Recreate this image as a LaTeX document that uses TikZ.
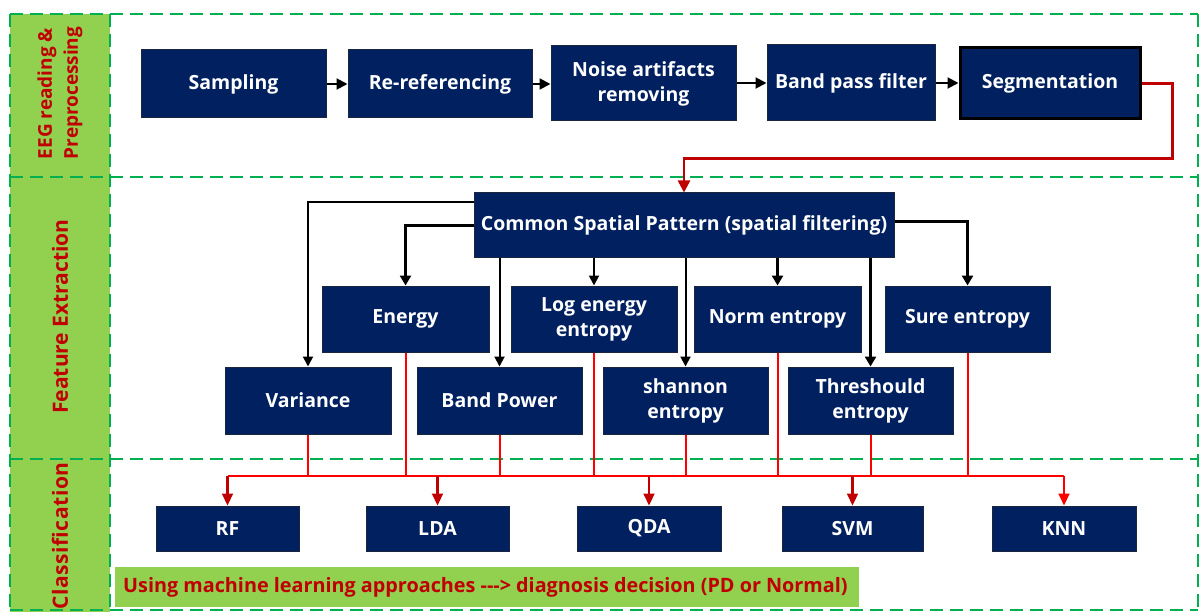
\documentclass[tikz,border=0pt]{standalone}
\usepackage{fontspec}
\setmainfont{Open Sans}
\newfontfamily\spacedfont[LetterSpace=3]{Open Sans}
\usetikzlibrary{arrows.meta,calc}
\definecolor{navy}{HTML}{002060}
\definecolor{bandgreen}{HTML}{92D050}
\definecolor{dashgreen}{HTML}{00B050}
\definecolor{darkred}{HTML}{C00000}
\definecolor{brightred}{HTML}{FF0000}
\definecolor{boxedge}{HTML}{1A2540}
\tikzset{
  box/.style={draw=boxedge, line width=1pt, fill=navy, text=white, inner sep=0pt,
    align=center, font=\fontsize{19.5}{25}\selectfont\bfseries},
  rowline/.style={draw=dashgreen, line width=2.5pt, dash pattern=on 13pt off 7pt},
  rowlabel/.style={rotate=90, text=darkred, align=left, font=\fontsize{19}{26}\selectfont\bfseries},
  thinarrow/.style={draw=black, line width=2pt, -{Triangle[width=10pt,length=10pt]}},
  thickarrow/.style={draw=black, line width=3pt, -{Triangle[width=11pt,length=10pt]}},
  flowarrow/.style={draw=black, line width=2pt, -{Triangle[width=11pt,length=11pt]}},
  redfeed/.style={draw=brightred, line width=2pt},
  reddrop/.style={draw=darkred, line width=2.2pt, -{Triangle[width=11pt,length=12pt]}},
  segarrow/.style={draw=darkred, line width=2.6pt, -{Triangle[width=12pt,length=12pt]}},
}
\begin{document}
\begin{tikzpicture}[x=1pt,y=-1pt]
\useasboundingbox (0,0) rectangle (1201,612);
% left band
\fill[bandgreen] (10,14) rectangle (110,612);
% dashed frames
\draw[rowline] (10,14) -- (1198,14);
\draw[rowline] (10,177) -- (1198,177);
\draw[rowline] (10,459) -- (1198,459);
\draw[rowline] (10,610) -- (1198,610);
\draw[rowline] (10,14) -- (10,612);
\draw[rowline] (110,14) -- (110,612);
\draw[rowline] (1198,14) -- (1198,612);
% row labels
\node[rowlabel] (lab1) at (60,93) {EEG reading \&\\Preprocessing};
\node[rowlabel, font=\fontsize{21}{26}\selectfont\bfseries] (lab2) at (60,316.5) {Feature Extraction};
\node[rowlabel, font=\fontsize{21}{26}\selectfont\spacedfont\bfseries] (lab3) at (60,536) {Classification};
% row 1
\node[box, minimum width=185pt, minimum height=68pt] (samp) at (233.5,84) {Sampling};
\node[box, minimum width=184pt, minimum height=68pt] (reref) at (440,84) {Re-referencing};
\node[box, minimum width=185pt, minimum height=75pt] (noise) at (643.5,83.5) {Noise artifacts\\removing};
\node[box, minimum width=168pt, minimum height=76pt] (band) at (851,83) {Band pass filter};
\node[box, draw=black, line width=3pt, minimum width=180pt, minimum height=71pt] (seg) at (1050,83.5) {Segmentation};
\draw[flowarrow] (samp.east) -- (reref.west);
\draw[flowarrow] (reref.east) -- (noise.west |- reref.east);
\draw[flowarrow] (noise.east |- band.west) -- (band.west);
\draw[flowarrow] (band.east) -- (seg.west |- band.east);
% CSP
\node[box, minimum width=420pt, minimum height=65pt] (csp) at (684,225.5) {Common Spatial Pattern (spatial filtering)};
\draw[segarrow] (seg.east) -- ++(31,0) -- ++(0,75) -| (csp.north);
% features
\node[box, minimum width=167pt, minimum height=66pt] (energy) at (405.5,319) {Energy};
\node[box, minimum width=166pt, minimum height=66pt] (loge) at (594,319) {Log energy\\entropy};
\node[box, minimum width=167pt, minimum height=66pt] (norm) at (777.5,319) {Norm entropy};
\node[box, minimum width=165pt, minimum height=66pt] (sure) at (967.5,319) {Sure entropy};
\node[box, minimum width=166pt, minimum height=67pt] (var) at (308,400.5) {Variance};
\node[box, minimum width=165pt, minimum height=67pt] (bandp) at (499.5,400.5) {Band Power};
\node[box, minimum width=165pt, minimum height=67pt] (shan) at (685.5,400.5) {shannon\\entropy};
\node[box, minimum width=165pt, minimum height=67pt] (thr) at (870.5,400.5) {Threshould\\entropy};
\draw[thinarrow] (csp.west |- 0,202) -| (var.north);
\draw[thickarrow] (csp.west |- 0,226) -| (energy.north);
\draw[thickarrow] (csp.east |- 0,222) -| (sure.north);
\draw[thinarrow] (csp.south -| bandp.north) -- (bandp.north);
\draw[thinarrow] (csp.south -| loge.north) -- (loge.north);
\draw[thinarrow] (csp.south -| shan.north) -- (shan.north);
\draw[thickarrow] (csp.south -| norm.north) -- (norm.north);
\draw[thickarrow] (csp.south -| thr.north) -- (thr.north);
% classifiers
\node[box, minimum width=143pt, minimum height=45pt] (rf) at (227.5,528.5) {RF};
\node[box, minimum width=143pt, minimum height=45pt] (lda) at (437.5,528.5) {LDA};
\node[box, minimum width=144pt, minimum height=45pt] (qda) at (649,528.5) {QDA};
\node[box, minimum width=141pt, minimum height=45pt] (svm) at (852.5,528.5) {SVM};
\node[box, minimum width=144pt, minimum height=45pt] (knn) at (1064,528.5) {KNN};
\coordinate (busL) at (rf.north |- 0,476);
\coordinate (busR) at (knn.north |- 0,476);
\foreach \f in {var,energy,bandp,loge,shan,norm,thr,sure}{
  \draw[redfeed] (\f.south) -- (\f.south |- busL);
}
\draw[redfeed] (busL) -- (busR);
\draw[reddrop] (busL) -- (rf.north);
\draw[reddrop] (lda.north |- busL) -- (lda.north);
\draw[reddrop] (qda.north |- busL) -- (qda.north);
\draw[reddrop] (svm.north |- busL) -- (svm.north);
\draw[redfeed, -{Triangle[width=11pt,length=12pt]}] (busR) -- (knn.north);
% note
\node[fill=bandgreen, minimum width=744pt, minimum height=40pt, inner sep=0pt] (note) at (487,587) {};
\node[anchor=west, text=darkred, font=\fontsize{19.8}{22}\selectfont\bfseries, inner sep=0pt] (notetext) at (123,587) {Using machine learning approaches -{}-{}-> diagnosis decision (PD or Normal)};
\end{tikzpicture}
\end{document}
